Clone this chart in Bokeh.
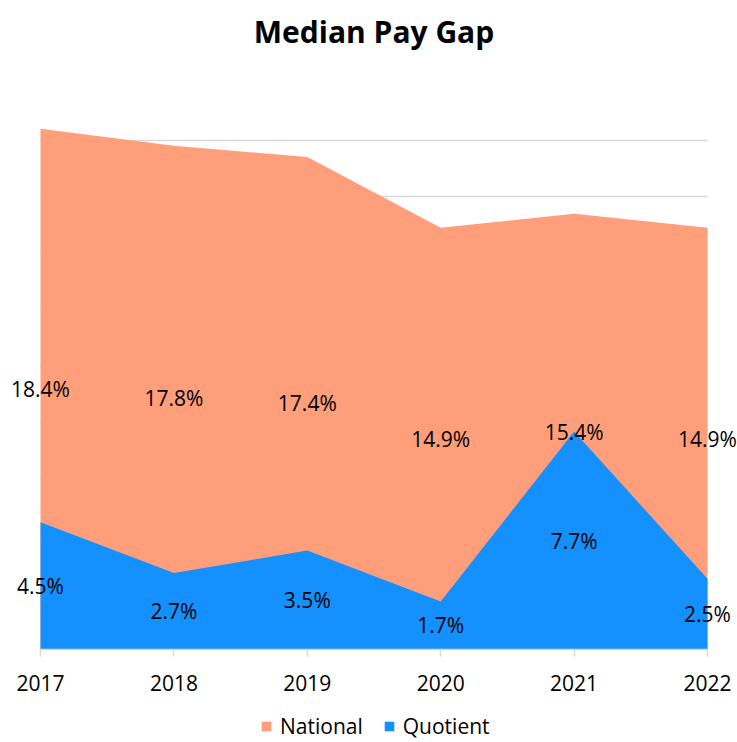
from bokeh.plotting import figure
from bokeh.models import (Range1d, FixedTicker, Legend, LegendItem, LabelSet,
                          Label, ColumnDataSource)
from bokeh.core.properties import value
from bokeh.embed import file_html
from bokeh.resources import INLINE

years = ["2017", "2018", "2019", "2020", "2021", "2022"]
national = [18.4, 17.8, 17.4, 14.9, 15.4, 14.9]
quotient = [4.5, 2.7, 3.5, 1.7, 7.7, 2.5]
grid_ticks = [2, 4, 6, 8, 10, 12, 14, 16, 18]

NAT_COLOR = "#FF9E7A"
QUO_COLOR = "#1591FF"
FONT = "Open Sans"

xs = list(range(len(years)))

W, H = 737, 742
# data x=0..5 -> page x 40..707 ; data y=0 -> page y 649, 28.3 px per unit
px_per_x = 667 / 5
px_per_y = 28.3
x0 = -40 / px_per_x
x1 = 5 + (W - 707) / px_per_x
y0 = -(H - 649) / px_per_y
y1 = 649 / px_per_y

p = figure(frame_width=W, frame_height=H, output_backend="svg",
           toolbar_location=None,
           x_range=Range1d(x0, x1), y_range=Range1d(y0, y1),
           min_border=0)
p.outline_line_color = None
p.background_fill_color = "white"
p.border_fill_color = "white"

nat_r = p.varea(x=xs, y1=[0] * len(xs), y2=national, fill_color=NAT_COLOR)
quo_r = p.varea(x=xs, y1=[0] * len(xs), y2=quotient, fill_color=QUO_COLOR)

# grid
p.xgrid.visible = False
p.ygrid.ticker = FixedTicker(ticks=grid_ticks)
p.ygrid.cross_bounds = (0, 5)
p.ygrid.grid_line_color = "#D9D9D9"
p.ygrid.grid_line_width = 1.5
p.yaxis.visible = False

# x axis drawn at y = 0 inside the frame
p.xaxis.fixed_location = 0
p.xaxis.ticker = FixedTicker(ticks=xs)
p.xaxis.bounds = (0, 5)
p.xaxis.major_label_overrides = {i: y for i, y in enumerate(years)}
p.xaxis.axis_line_color = "#D9D9D9"
p.xaxis.axis_line_width = 1.5
p.xaxis.major_tick_line_color = "#D9D9D9"
p.xaxis.major_tick_line_width = 1.5
p.xaxis.major_tick_out = 7
p.xaxis.major_tick_in = 0
p.xaxis.minor_tick_line_color = None
p.xaxis.major_label_text_font = FONT
p.xaxis.major_label_text_font_size = "21px"
p.xaxis.major_label_text_color = "black"
p.xaxis.major_label_standoff = 18

# data labels
nat_src = ColumnDataSource(dict(x=xs, y=[v / 2 for v in national],
                                t=[f"{v:.1f}%" for v in national]))
quo_src = ColumnDataSource(dict(x=xs, y=[v / 2 for v in quotient],
                                t=[f"{v:.1f}%" for v in quotient]))
for src in (nat_src, quo_src):
    p.add_layout(LabelSet(x="x", y="y", text="t", source=src,
                          text_align="center", text_baseline="middle",
                          text_font=value(FONT), text_font_size=value("21px"),
                          text_color="black"))

# title
p.add_layout(Label(x=2.5, y=(649 - 31) / px_per_y,
                   text="Median Pay Gap", text_align="center",
                   text_baseline="middle", text_font=FONT,
                   text_font_size="30px", text_font_style="bold",
                   text_color="black"))

legend = Legend(items=[LegendItem(label="National", renderers=[nat_r]),
                       LegendItem(label="Quotient", renderers=[quo_r])],
                orientation="horizontal", location=(260, 2),
                glyph_width=12, glyph_height=12,
                label_text_font=FONT, label_text_font_size="21px",
                label_text_color="black", label_standoff=8, spacing=20,
                border_line_color=None, background_fill_alpha=0,
                margin=0, padding=0)
p.add_layout(legend)

open("out.html", "w").write(file_html(p, INLINE))
